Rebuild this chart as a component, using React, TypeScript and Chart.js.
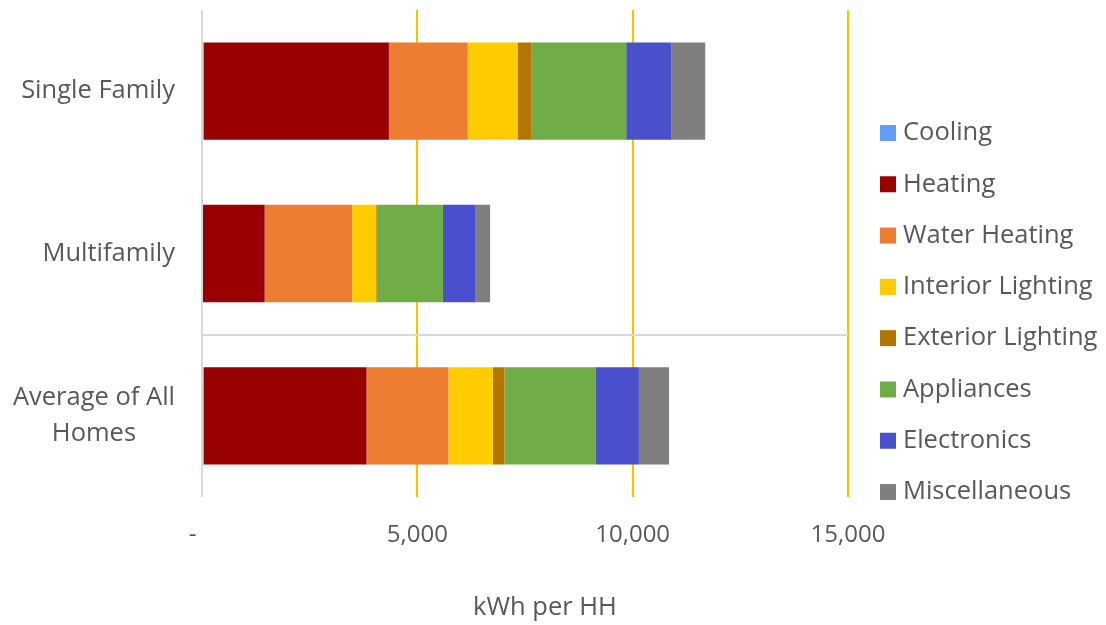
import React, { useEffect, useRef } from 'react';
import { Chart, registerables } from 'chart.js';

Chart.register(...registerables);

// Home types (multi-line labels are arrays of lines)
const categories: string[][] = [['Single Family'], ['Multifamily'], ['Average of All', 'Homes']];

// End uses, in stacking order
const endUses = [
  'Cooling',
  'Heating',
  'Water Heating',
  'Interior Lighting',
  'Exterior Lighting',
  'Appliances',
  'Electronics',
  'Miscellaneous',
];
const endUseColors = ['#619CFF', '#990000', '#ED7D31', '#FFCC00', '#B37700', '#70AD47', '#4A50CC', '#7F7F7F'];

// kWh per household, per home type
const cooling = [40, 0, 40];
const heating = [4300, 1455, 3780];
const waterHeating = [1830, 2030, 1900];
const interiorLighting = [1155, 560, 1035];
const exteriorLighting = [330, 20, 270];
const appliances = [2195, 1530, 2110];
const electronics = [1055, 745, 1010];
const miscellaneous = [780, 350, 700];

const seriesValues = [
  cooling,
  heating,
  waterHeating,
  interiorLighting,
  exteriorLighting,
  appliances,
  electronics,
  miscellaneous,
];

// x axis
const xMin = 0;
const xMax = 15000;
const xStep = 5000;
const xTitle = 'kWh per HH';

const TEXT = '#595959';
const FONT = '"Open Sans", "Noto Sans", sans-serif';
const LABEL_SIZE = 25.5;
const TICK_SIZE = 24;

// Category labels: each block right-aligned to the axis, lines centred within it
const categoryLabels = {
  id: 'categoryLabels',
  afterDraw(chart: any) {
    const { ctx, chartArea } = chart;
    const yScale = chart.scales.y;
    const lineGap = 35.5;
    ctx.save();
    ctx.font = `${LABEL_SIZE}px ${FONT}`;
    ctx.fillStyle = TEXT;
    ctx.textAlign = 'center';
    ctx.textBaseline = 'middle';
    const right = chartArea.left - 27;
    (chart.data.labels as string[][]).forEach((lab, i) => {
      const lines = Array.isArray(lab) ? lab : [lab];
      const w = Math.max(...lines.map((l) => ctx.measureText(l).width));
      const cx = right - w / 2;
      const cy = yScale.getPixelForValue(i);
      lines.forEach((l, j) => {
        ctx.fillText(l, cx, cy + (j - (lines.length - 1) / 2) * lineGap);
      });
    });
    ctx.restore();
  },
};

// Legend on the right, one row per end use
const sideLegend = {
  id: 'sideLegend',
  afterDraw(chart: any) {
    const { ctx, chartArea, height } = chart;
    const datasets = chart.data.datasets;
    const rowH = 51.3;
    const box = 16;
    const x0 = chartArea.right + 32;
    const firstY = height / 2 - ((datasets.length - 1) / 2) * rowH;
    ctx.save();
    ctx.font = `${LABEL_SIZE}px ${FONT}`;
    ctx.textAlign = 'left';
    ctx.textBaseline = 'middle';
    datasets.forEach((ds: any, i: number) => {
      const cy = firstY + i * rowH;
      ctx.fillStyle = ds.backgroundColor;
      ctx.fillRect(x0, cy - box / 2, box, box);
      ctx.fillStyle = TEXT;
      ctx.fillText(ds.label, x0 + box + 7, cy);
    });
    ctx.restore();
  },
};

// Axis title under the tick labels
const axisCaption = {
  id: 'axisCaption',
  afterDraw(chart: any) {
    const { ctx, chartArea, height } = chart;
    ctx.save();
    ctx.font = `${LABEL_SIZE}px ${FONT}`;
    ctx.fillStyle = TEXT;
    ctx.textAlign = 'center';
    ctx.textBaseline = 'middle';
    ctx.fillText(xTitle, (chartArea.left + chartArea.right) / 2 + 20, height - 17);
    ctx.restore();
  },
};

export default function App() {
  const canvasRef = useRef<HTMLCanvasElement | null>(null);

  useEffect(() => {
    if (!canvasRef.current) return;
    const chart = new Chart(canvasRef.current, {
      type: 'bar',
      data: {
        labels: categories as any,
        datasets: endUses.map((name, i) => ({
          label: name,
          data: seriesValues[i],
          backgroundColor: endUseColors[i],
          borderWidth: 0,
          categoryPercentage: 1,
          barPercentage: 0.6,
        })),
      },
      options: {
        indexAxis: 'y',
        responsive: false,
        animation: false,
        layout: { padding: { top: 10, right: 258, left: 0, bottom: 0 } },
        plugins: {
          legend: { display: false },
          tooltip: { enabled: false },
        },
        scales: {
          x: {
            stacked: true,
            min: xMin,
            max: xMax,
            border: { display: false },
            grid: {
              drawTicks: false,
              lineWidth: 2,
              color: (c: any) => (c.tick && c.tick.value === 0 ? '#D9D9D9' : '#FFC000'),
            },
            ticks: {
              stepSize: xStep,
              padding: 24,
              color: TEXT,
              font: { family: FONT, size: TICK_SIZE },
              callback: (v: any) => (Number(v) === 0 ? '-   ' : Number(v).toLocaleString('en-US')),
            },
            afterFit: (scale: any) => {
              scale.height = 128;
            },
          },
          y: {
            stacked: true,
            border: { display: false },
            grid: {
              offset: true,
              drawTicks: false,
              lineWidth: 2,
              color: (c: any) => (c.index === 2 ? '#D9D9D9' : 'rgba(0,0,0,0)'),
            },
            ticks: { display: false },
            afterFit: (scale: any) => {
              scale.width = 202;
            },
          },
        },
      },
      plugins: [categoryLabels, sideLegend, axisCaption],
    });
    return () => chart.destroy();
  }, []);

  return (
    <div style={{ position: 'absolute', left: 0, top: 0, width: 1106, height: 625, background: '#fff' }}>
      <canvas ref={canvasRef} width={1106} height={625} style={{ display: 'block' }} />
    </div>
  );
}
